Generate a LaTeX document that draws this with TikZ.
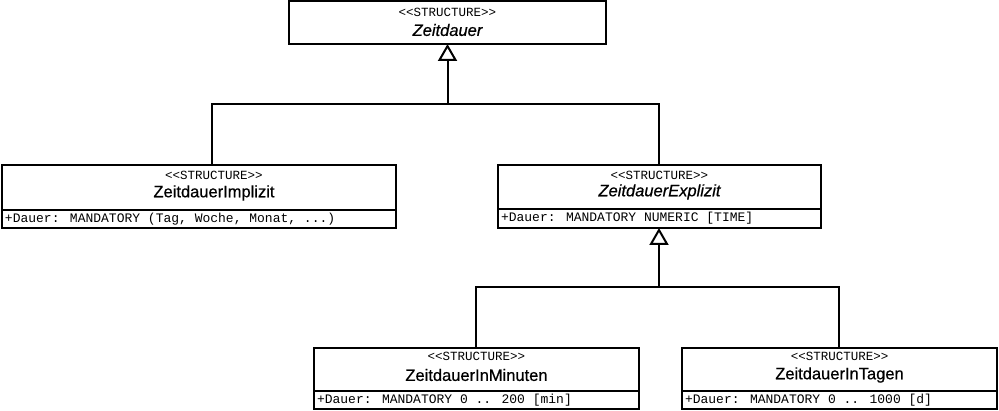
\documentclass[tikz,border=0pt]{standalone}
\usepackage{fontspec}
\setmainfont{Liberation Sans}
\newfontfamily\umlmono{Liberation Mono}
\newfontfamily\umlname[FakeBold=0.6]{Liberation Sans}
\usetikzlibrary{arrows.meta}
\usetikzlibrary{positioning}

\begin{document}
\begin{tikzpicture}[x=1pt, y=-1pt,
line width=2pt,
head/.style = {draw, rectangle, inner sep=0pt, outer sep=0pt},
attr/.style = {draw, rectangle, inner sep=0pt, outer sep=0pt},
stereo/.style = {font=\umlmono\fontsize{12.5}{12.5}\selectfont, inner sep=0pt},
cname/.style = {font=\umlname\fontsize{16.5}{16.5}\selectfont, inner sep=0pt},
aname/.style = {font=\umlname\itshape\fontsize{16.5}{16.5}\selectfont, inner sep=0pt},
attrtext/.style = {font=\umlmono\fontsize{13}{13}\selectfont, inner sep=0pt, anchor=west},
inherit/.style = {-{Triangle[open, length=17pt, width=19pt]}}
                        ]
\useasboundingbox (0,0) rectangle (999,411);
% Zeitdauer
\node (zdH) [head, minimum width=317pt, minimum height=43pt] at (447.5,22.5) {};
\node (zdS) [stereo] at ([yshift=-11pt]zdH.north) {<{}<STRUCTURE>{}>};
\node (zdN) [aname] at ([yshift=-29pt]zdH.north) {Zeitdauer};
% ZeitdauerImplizit
\node (imH) [head, minimum width=394pt, minimum height=45pt] at (199,187.5) {};
\node (imA) [attr, minimum width=394pt, minimum height=18pt, below=0pt of imH] {};
\node (imS) [stereo] at ([xshift=15pt, yshift=-10pt]imH.north) {<{}<STRUCTURE>{}>};
\node (imN) [cname] at ([xshift=15pt, yshift=-28pt]imH.north) {ZeitdauerImplizit};
\node (imT) [attrtext] at ([xshift=2pt]imA.west) {+Dauer: MANDATORY (Tag, Woche, Monat, ...)};
% ZeitdauerExplizit
\node (exH) [head, minimum width=323pt, minimum height=44pt] at (659.5,187) {};
\node (exA) [attr, minimum width=323pt, minimum height=19pt, below=0pt of exH] {};
\node (exS) [stereo] at ([yshift=-10pt]exH.north) {<{}<STRUCTURE>{}>};
\node (exN) [aname] at ([yshift=-27pt]exH.north) {ZeitdauerExplizit};
\node (exT) [attrtext] at ([xshift=2pt]exA.west) {+Dauer: MANDATORY NUMERIC [TIME]};
% ZeitdauerInMinuten
\node (miH) [head, minimum width=325pt, minimum height=43pt] at (476.5,369.5) {};
\node (miA) [attr, minimum width=325pt, minimum height=18pt, below=0pt of miH] {};
\node (miS) [stereo] at ([yshift=-8.5pt]miH.north) {<{}<STRUCTURE>{}>};
\node (miN) [cname] at ([yshift=-27pt]miH.north) {ZeitdauerInMinuten};
\node (miT) [attrtext] at ([xshift=2pt]miA.west) {+Dauer: MANDATORY 0 .. 200 [min]};
% ZeitdauerInTagen
\node (taH) [head, minimum width=315pt, minimum height=43pt] at (839.5,369.5) {};
\node (taA) [attr, minimum width=315pt, minimum height=18pt, below=0pt of taH] {};
\node (taS) [stereo] at ([yshift=-8.5pt]taH.north) {<{}<STRUCTURE>{}>};
\node (taN) [cname] at ([yshift=-27pt]taH.north) {ZeitdauerInTagen};
\node (taT) [attrtext] at ([xshift=2pt]taA.west) {+Dauer: MANDATORY 0 .. 1000 [d]};
% generalisations
\coordinate (forkA) at (447.5,104);
\coordinate (forkB) at (659,287);
\draw ([xshift=13pt]imH.north) |- (forkA);
\draw ([xshift=-0.5pt]exH.north) |- (forkA);
\draw [inherit] (forkA) -- (zdH.south);
\draw ([xshift=-0.5pt]miH.north) |- (forkB);
\draw ([xshift=-0.5pt]taH.north) |- (forkB);
\draw [inherit] (forkB) -- (forkB |- exA.south);
\end{tikzpicture}
\end{document}
